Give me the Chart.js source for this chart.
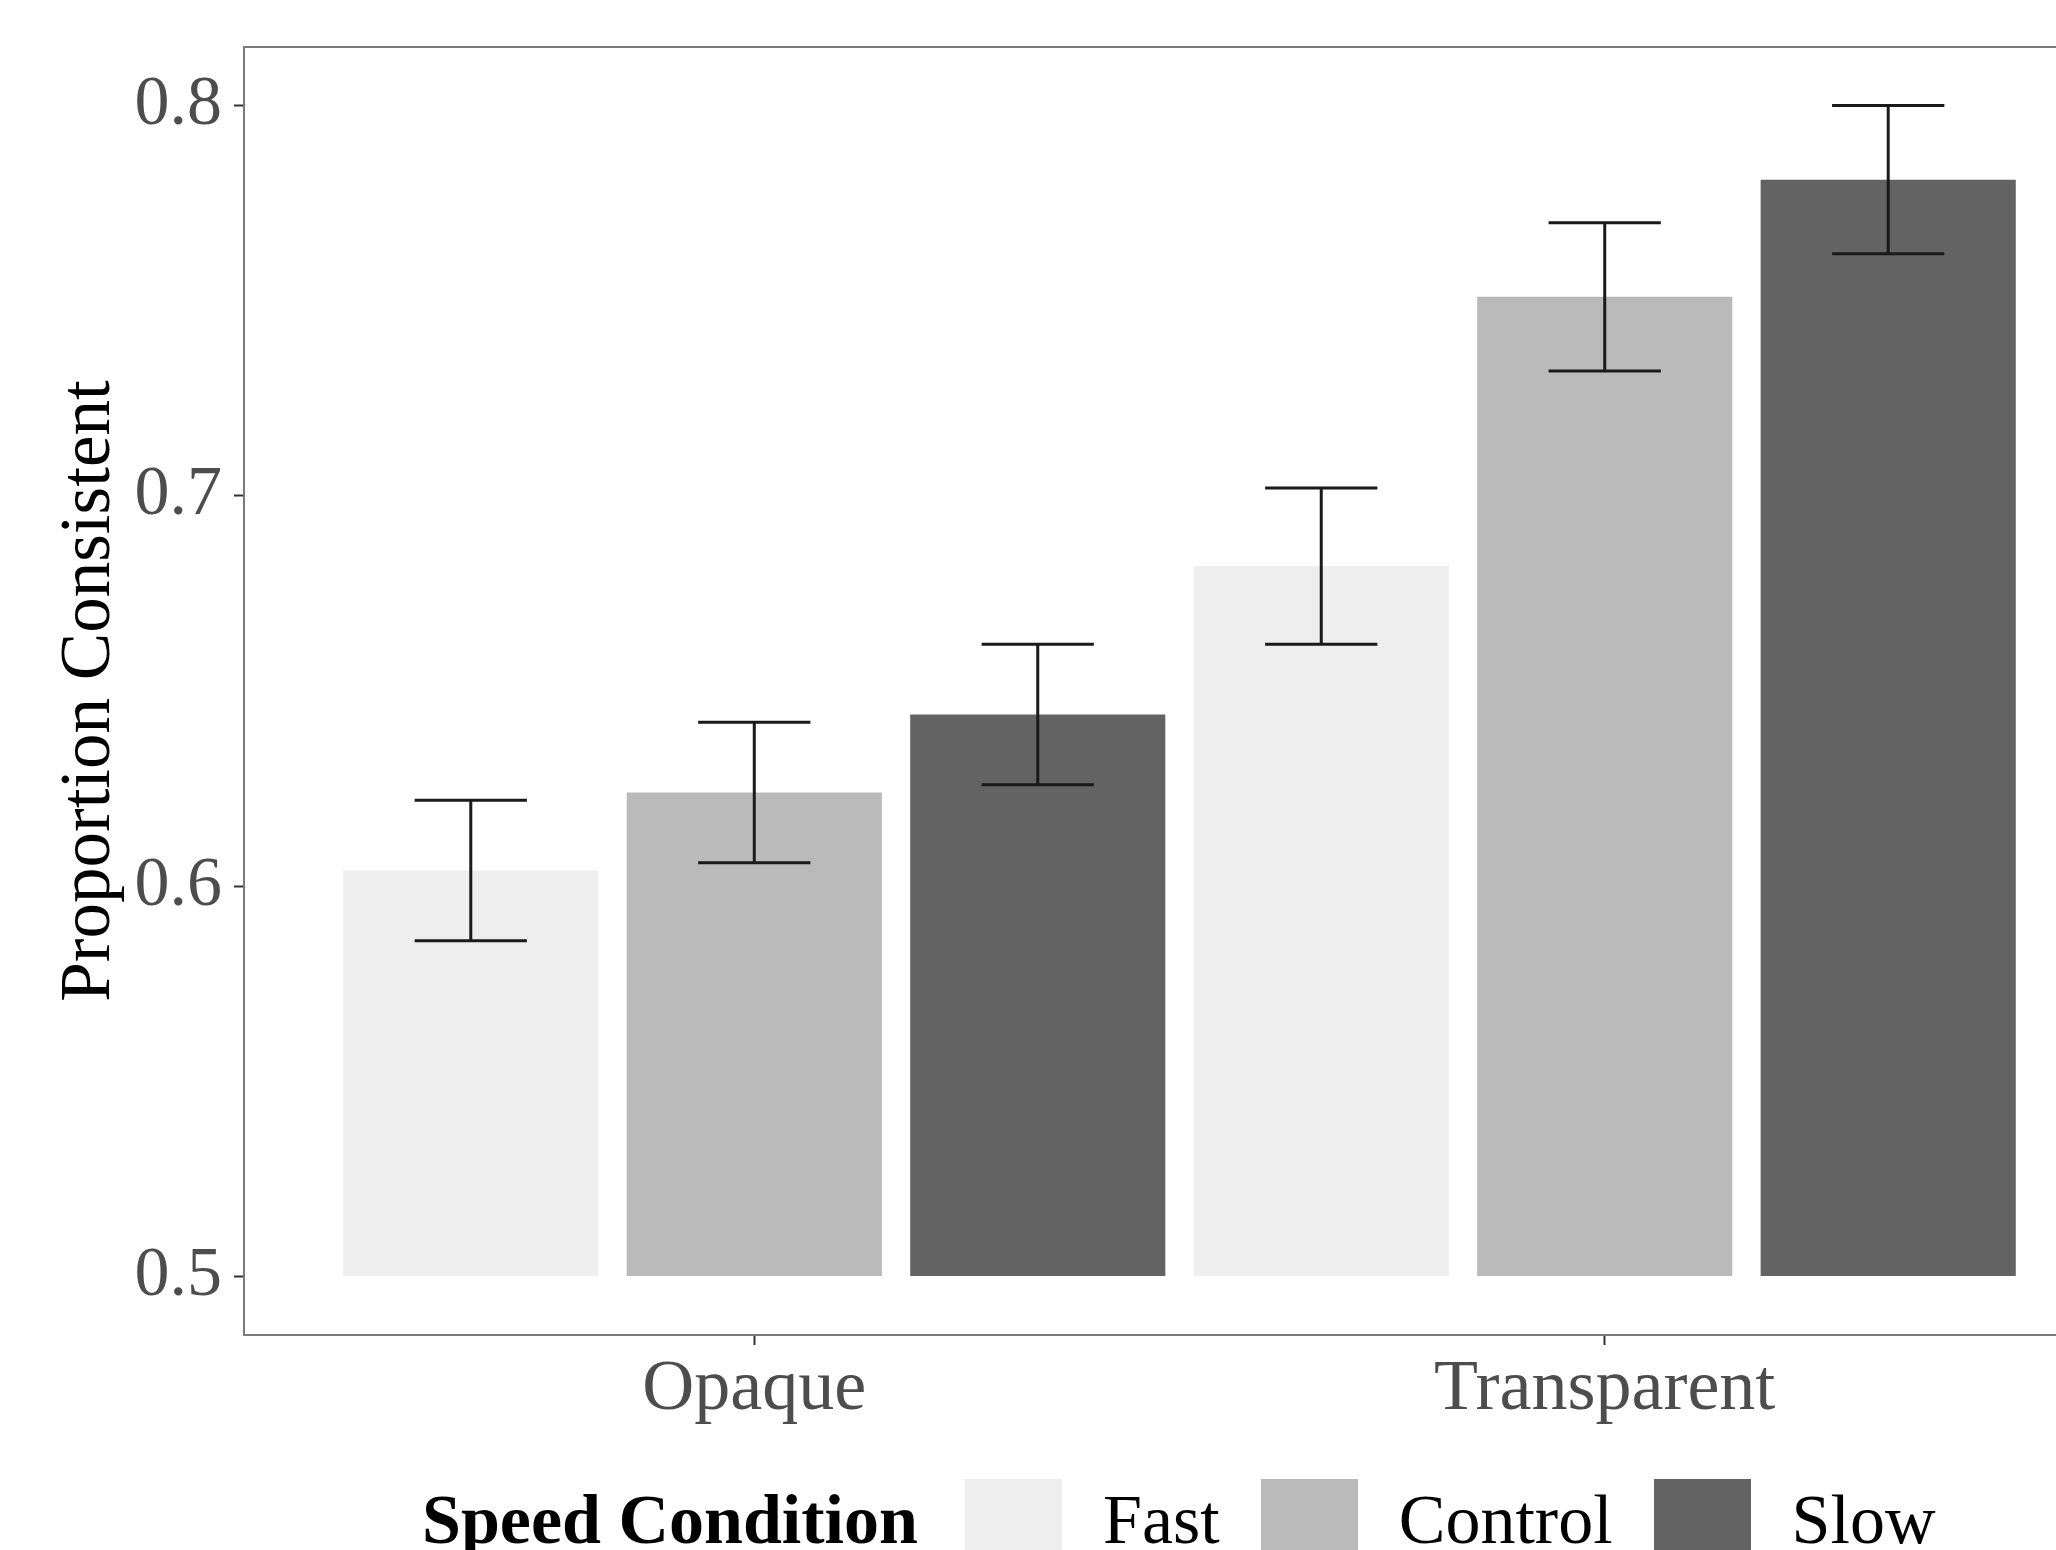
<!DOCTYPE html>
<html lang="en">
<head>
    <meta charset="UTF-8">
    <title>Proportion Consistent by Speed Condition</title>
    <script src="https://cdn.jsdelivr.net/npm/chart.js@4.4.0/dist/chart.umd.min.js"></script>
    <style>
        html, body {
            margin: 0;
            padding: 0;
            background: #fff;
            width: 2056px;
            height: 1550px;
            overflow: hidden;
        }
        #wrap {
            position: relative;
            width: 2200px;
            height: 1550px;
        }
        canvas {
            position: absolute;
            left: 0;
            top: 0;
        }
        /* legend below the panel, cut by the bottom edge like the original */
        .legend {
            position: absolute;
            left: 422px;
            top: 1479px;
            height: 97px;
            display: flex;
            align-items: center;
            font-family: "Liberation Serif", "Times New Roman", serif;
            font-size: 70px;
            color: #000;
            white-space: nowrap;
        }
        .legend .title { font-weight: bold; margin-right: 47px; position: relative; top: -8px; }
        .legend .box { width: 97px; height: 97px; margin-right: 41px; }
        .legend .label { margin-right: 41px; position: relative; top: -8px; }
    </style>
</head>
<body>
<div id="wrap">
    <canvas id="chart" width="2200" height="1550"></canvas>
    <div class="legend" id="legend"></div>
</div>

<script>
    // data
    const categories = ['Opaque', 'Transparent'];
    const conditions = ['Fast', 'Control', 'Slow'];
    const fastMean = [0.604, 0.682];
    const controlMean = [0.624, 0.751];
    const slowMean = [0.644, 0.781];
    const fastLow = [0.586, 0.662];
    const fastHigh = [0.622, 0.702];
    const controlLow = [0.606, 0.732];
    const controlHigh = [0.642, 0.770];
    const slowLow = [0.626, 0.762];
    const slowHigh = [0.662, 0.800];
    const yTicks = [0.5, 0.6, 0.7, 0.8];

    const fills = ['#eeeeee', '#bababa', '#636363'];
    const means = [fastMean, controlMean, slowMean];
    const lows = [fastLow, controlLow, slowLow];
    const highs = [fastHigh, controlHigh, slowHigh];

    const serif = '"Liberation Serif", "Times New Roman", serif';

    const datasets = conditions.map((name, i) => ({
        label: name,
        data: means[i].map((v, j) => ({ x: j + 1, y: v })),
        backgroundColor: fills[i],
        borderWidth: 0,
        base: 0.5,
        categoryPercentage: 1.0,
        barPercentage: 0.9
    }));

    // panel border + error bars
    const extras = {
        id: 'extras',
        afterDatasetsDraw(chart) {
            const ctx = chart.ctx;
            const y = chart.scales.y;
            ctx.save();
            ctx.strokeStyle = '#1a1a1a';
            ctx.lineWidth = 3;
            chart.data.datasets.forEach((ds, i) => {
                const meta = chart.getDatasetMeta(i);
                meta.data.forEach((bar, j) => {
                    const half = bar.width * 0.22;
                    const top = y.getPixelForValue(highs[i][j]);
                    const bot = y.getPixelForValue(lows[i][j]);
                    ctx.beginPath();
                    ctx.moveTo(bar.x, top);
                    ctx.lineTo(bar.x, bot);
                    ctx.moveTo(bar.x - half, top);
                    ctx.lineTo(bar.x + half, top);
                    ctx.moveTo(bar.x - half, bot);
                    ctx.lineTo(bar.x + half, bot);
                    ctx.stroke();
                });
            });
            const a = chart.chartArea;
            ctx.strokeStyle = '#7a7a7a';
            ctx.lineWidth = 2;
            ctx.strokeRect(a.left, a.top, a.right - a.left, a.bottom - a.top);
            ctx.restore();
        }
    };

    new Chart(document.getElementById('chart'), {
        type: 'bar',
        data: { datasets: datasets },
        options: {
            responsive: false,
            animation: false,
            layout: { padding: { top: 47, right: 85, left: 0, bottom: 0 } },
            plugins: {
                legend: { display: false },
                tooltip: { enabled: false }
            },
            scales: {
                x: {
                    type: 'linear',
                    min: 0.4,
                    max: 2.6,
                    offset: false,
                    afterBuildTicks: (s) => { s.ticks = categories.map((c, j) => ({ value: j + 1 })); },
                    afterFit: (s) => { s.height = 215; },
                    grid: { offset: false, drawOnChartArea: false, drawTicks: true, tickLength: 10, tickWidth: 2, tickColor: '#333' },
                    border: { display: false },
                    ticks: {
                        padding: 2,
                        color: '#4d4d4d',
                        font: { family: serif, size: 72 },
                        callback: (v) => categories[v - 1]
                    }
                },
                y: {
                    min: 0.485,
                    max: 0.815,
                    afterBuildTicks: (s) => { s.ticks = yTicks.map(v => ({ value: v })); },
                    afterFit: (s) => { s.width = 244; s.paddingTop = 0; s.paddingBottom = 0; },
                    grid: { drawOnChartArea: false, drawTicks: true, tickLength: 10, tickWidth: 2, tickColor: '#333' },
                    border: { display: false },
                    ticks: {
                        padding: 12,
                        color: '#4d4d4d',
                        font: { family: serif, size: 70 },
                        callback: (v) => v.toFixed(1)
                    },
                    title: {
                        display: true,
                        text: 'Proportion Consistent',
                        color: '#000',
                        font: { family: serif, size: 71 },
                        padding: { top: 48, bottom: 0 }
                    }
                }
            }
        },
        plugins: [extras]
    });

    // legend built from the same names and fills
    const legend = document.getElementById('legend');
    const t = document.createElement('span');
    t.className = 'title';
    t.textContent = 'Speed Condition';
    legend.appendChild(t);
    conditions.forEach((name, i) => {
        const b = document.createElement('span');
        b.className = 'box';
        b.style.background = fills[i];
        legend.appendChild(b);
        const l = document.createElement('span');
        l.className = 'label';
        l.textContent = name;
        legend.appendChild(l);
    });
</script>
</body>
</html>
